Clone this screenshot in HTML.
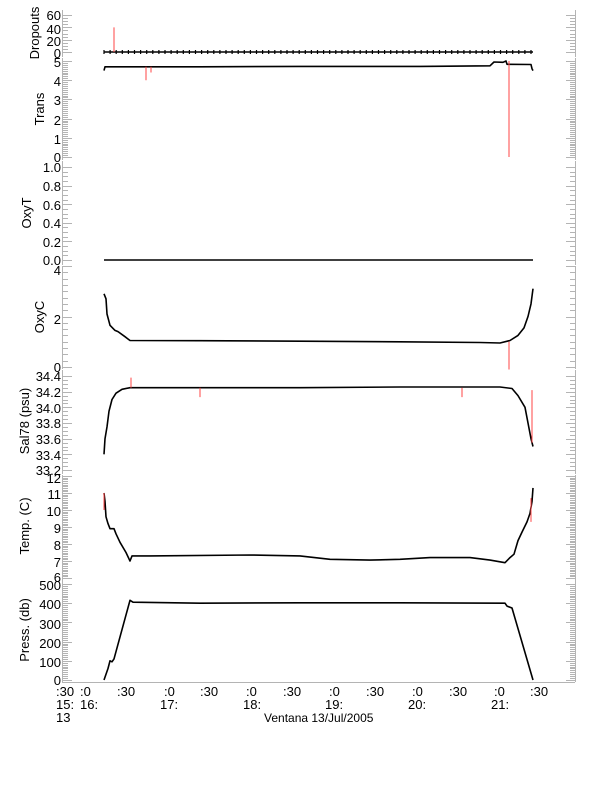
<!DOCTYPE html>
<html><head><meta charset="utf-8"><style>
body{margin:0;background:#fff;}
svg{display:block;font-family:"Liberation Sans",sans-serif;}
</style></head><body>
<svg id="s" width="612" height="785" xmlns="http://www.w3.org/2000/svg">
<g font-size="13" fill="#000" text-anchor="end">
<text x="61" y="20">60</text><text x="61" y="34">40</text><text x="61" y="46">20</text><text x="61" y="58">0</text>
<text x="61" y="67">5</text><text x="61" y="86">4</text><text x="61" y="105">3</text><text x="61" y="125">2</text><text x="61" y="144">1</text><text x="61" y="162">0</text>
<text x="61" y="172">1.0</text><text x="61" y="191">0.8</text><text x="61" y="210">0.6</text><text x="61" y="228">0.4</text><text x="61" y="247">0.2</text><text x="61" y="265">0.0</text>
<text x="61" y="275">4</text><text x="61" y="324">2</text><text x="61" y="372">0</text>
<text x="61" y="381">34.4</text><text x="61" y="397">34.2</text><text x="61" y="413">34.0</text><text x="61" y="428">33.8</text><text x="61" y="444">33.6</text><text x="61" y="460">33.4</text><text x="61" y="475">33.2</text>
<text x="61" y="483">12</text><text x="61" y="499">11</text><text x="61" y="516">10</text><text x="61" y="533">9</text><text x="61" y="550">8</text><text x="61" y="567">7</text><text x="61" y="582">6</text>
<text x="61" y="590">500</text><text x="61" y="609">400</text><text x="61" y="629">300</text><text x="61" y="648">200</text><text x="61" y="667">100</text><text x="61" y="685">0</text>
</g>
<g font-size="13" fill="#000" text-anchor="middle">
<text transform="translate(39,33) rotate(-90)">Dropouts</text>
<text transform="translate(44,109) rotate(-90)">Trans</text>
<text transform="translate(31,213) rotate(-90)">OxyT</text>
<text transform="translate(44,317) rotate(-90)">OxyC</text>
<text transform="translate(29,421) rotate(-90)">Sal78 (psu)</text>
<text transform="translate(29,526) rotate(-90)">Temp. (C)</text>
<text transform="translate(29,630) rotate(-90)">Press. (db)</text>
</g>
<g font-size="13" fill="#000">
<text x="56" y="696">:30</text><text x="80" y="696">:0</text><text x="117" y="696">:30</text><text x="164" y="696">:0</text><text x="200" y="696">:30</text><text x="246" y="696">:0</text><text x="283" y="696">:30</text><text x="329" y="696">:0</text><text x="366" y="696">:30</text><text x="412" y="696">:0</text><text x="449" y="696">:30</text><text x="494" y="696">:0</text><text x="530" y="696">:30</text>
<text x="56" y="709">15:</text><text x="80" y="709">16:</text><text x="160" y="709">17:</text><text x="243" y="709">18:</text><text x="325" y="709">19:</text><text x="408" y="709">20:</text><text x="491" y="709">21:</text>
<text x="56" y="722">13</text>
<text x="264" y="722" font-size="12">Ventana 13/Jul/2005</text>
</g>
<g id="ax" stroke="#b4b4b4" stroke-width="1" fill="none"></g>
<g id="dat" fill="none" stroke-linejoin="round"></g>
</svg>
<script>
var ax=document.getElementById('ax'),dat=document.getElementById('dat');
function L(g,x1,y1,x2,y2,c,w){var e=document.createElementNS('http://www.w3.org/2000/svg','line');e.setAttribute('x1',x1);e.setAttribute('y1',y1);e.setAttribute('x2',x2);e.setAttribute('y2',y2);if(c)e.setAttribute('stroke',c);if(w)e.setAttribute('stroke-width',w);g.appendChild(e);}
function P(pts,c,w){var e=document.createElementNS('http://www.w3.org/2000/svg','polyline');e.setAttribute('points',pts.map(function(p){return p.join(',')}).join(' '));e.setAttribute('stroke',c);e.setAttribute('stroke-width',w);dat.appendChild(e);}
var panels=[[10,57,0,52,60,15,20,5],[58,160,0,157,5,61,1,0.1],[161,265,0,260,1,167,0.2,0.05],[266,369,0,367,4,266,2,0.25],[370,474,33.2,470,34.4,376,0.2,0.05],[475,578,6,578,12,476,1,0.1],[579,682,0,680,500,584,100,10]];
panels.forEach(function(p){
 L(ax,62.5,p[0],62.5,p[1]);L(ax,575.5,p[0],575.5,p[1]);
 var s=(p[5]-p[3])/(p[4]-p[2]);
 for(var v=p[2];v<=p[4]+1e-6;v+=p[7]){var y=Math.round(p[3]+(v-p[2])*s)+0.5;var maj=Math.abs(Math.round((v-p[2])/p[6])*p[6]-(v-p[2]))<1e-6;var l=maj?10:6;L(ax,62,y,62+l,y);L(ax,576,y,576-l,y);}
});
L(ax,62,682.5,575,682.5);
function yp(i,v){var p=panels[i];return p[3]+(v-p[2])*(p[5]-p[3])/(p[4]-p[2]);}
function mk(i,pts){return pts.map(function(q){return [q[0],yp(i,q[1]).toFixed(1)];});}
P(mk(0,[[104,0],[533,0]]),'#000',1.5);
for(var x=104;x<=533;x+=6.1){L(dat,x,50,x,54,'#000',1.2);}
L(dat,114,yp(0,0),114,yp(0,40),'#f44',1);
var tr=[[104,4.5],[105,4.7],[200,4.7],[300,4.72],[420,4.72],[490,4.75],[494,4.95],[503,4.93],[506,5.0],[507,4.83],[531,4.82],[532,4.6],[533,4.5]];
P(mk(1,tr),'#000',1.6);
L(dat,509,yp(1,5),509,yp(1,0),'#f44',1);
L(dat,146,yp(1,4.7),146,yp(1,4.0),'#f44',1);L(dat,151,yp(1,4.7),151,yp(1,4.4),'#f44',1);
P(mk(2,[[104,0],[533,0]]),'#000',1.5);
P(mk(3,[[104,2.9],[106,2.7],[107,2.1],[110,1.65],[115,1.45],[118,1.4],[125,1.2],[130,1.05],[200,1.04],[300,1.02],[400,1.0],[480,0.97],[500,0.95],[510,1.05],[518,1.25],[524,1.55],[528,2.0],[531,2.5],[533,3.1]]),'#000',1.6);
L(dat,509,yp(3,1.0),509,yp(3,-0.1),'#f44',1);
P(mk(4,[[104,33.4],[105,33.6],[107,33.75],[109,33.95],[112,34.1],[116,34.18],[122,34.23],[130,34.25],[300,34.25],[400,34.26],[500,34.26],[512,34.24],[518,34.15],[525,34.0],[528,33.8],[531,33.6],[533,33.5]]),'#000',1.6);
L(dat,131,yp(4,34.25),131,yp(4,34.38),'#f44',1);L(dat,200,yp(4,34.25),200,yp(4,34.13),'#f44',1);L(dat,462,yp(4,34.25),462,yp(4,34.13),'#f44',1);L(dat,532,yp(4,34.22),532,yp(4,33.55),'#f44',1);
P(mk(5,[[104,11],[105,10.5],[106,9.6],[108,9.2],[110,8.9],[114,8.9],[116,8.6],[120,8.1],[126,7.5],[130,7.0],[132,7.3],[150,7.3],[250,7.35],[300,7.3],[330,7.1],[370,7.05],[400,7.1],[430,7.2],[470,7.2],[490,7.05],[505,6.9],[510,7.2],[514,7.4],[518,8.2],[522,8.7],[527,9.3],[530,9.8],[532,10.5],[533,11.3]]),'#000',1.6);
L(dat,104,yp(5,11),104,yp(5,10),'#f44',1);L(dat,531,yp(5,10.7),531,yp(5,9.3),'#f44',1);
P(mk(6,[[104,0],[108,60],[110,100],[112,95],[114,110],[130,415],[133,405],[200,400],[300,402],[400,402],[505,400],[507,385],[512,375],[533,0]]),'#000',1.6);
</script>
</body></html>
